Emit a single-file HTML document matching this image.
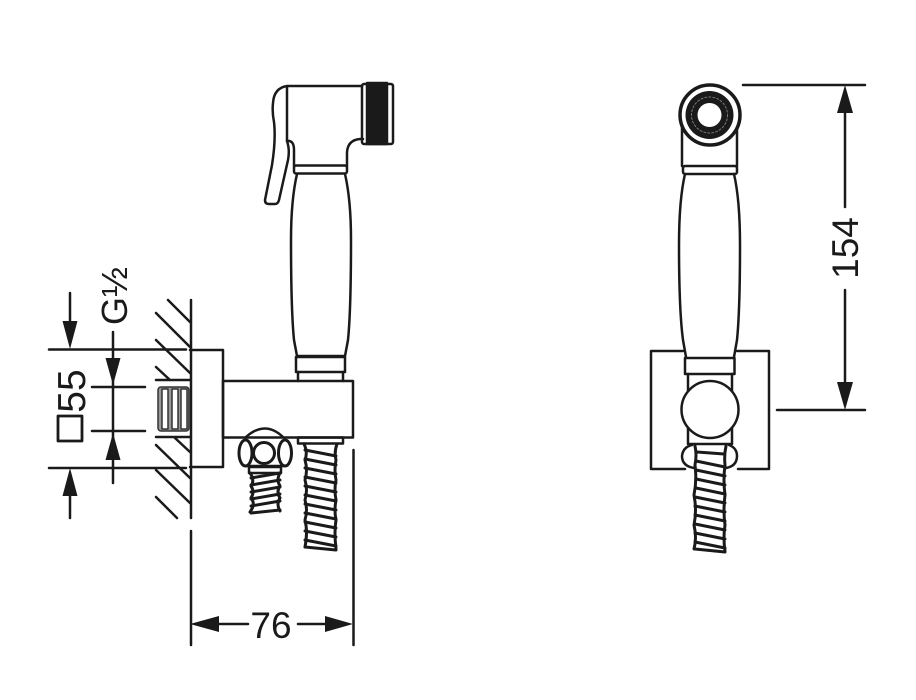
<!DOCTYPE html>
<html><head><meta charset="utf-8"><style>
html,body{margin:0;padding:0;background:#fff}
svg{display:block;filter:blur(0.35px)}
text{font-family:"Liberation Sans",sans-serif;fill:#1a1a1a}
</style></head><body>
<svg width="916" height="700" viewBox="0 0 916 700" fill="none" stroke="#1a1a1a" stroke-width="2.500" stroke-linejoin="round" stroke-linecap="round">
<!-- Handset side -->
<path d="M362 86H287Q274 88 273 103Q272 112 274 122Q276 140 272 165L265 200Q265 204 269 204H275Q278 204 279 200L288 160Q290 150 287 141V86" fill="#fff"/>
<path d="M287 141Q294 140 294 150V166M347 166V152Q348 140 360 139H363"/>
<rect x="294" y="165.500" width="53" height="8" rx="2"/>
<rect x="362" y="84" width="31" height="60" rx="2"/>
<rect x="367" y="83" width="20" height="61" fill="#1a1a1a"/>
<path d="M297 174Q291 200 291 240Q291 310 294 340L297 356H345L348 340Q351 310 351 240Q351 200 345 174"/>
<rect x="296" y="357" width="49" height="15"/>
<path d="M298 372V381M343 372V381"/>
<rect x="223" y="381" width="130" height="56.500"/>
<path d="M190 350H223V467H190" />
<!-- Elbow -->
<path d="M246 437Q265 420 283 437"/>
<circle cx="264" cy="453" r="10.500" stroke-width="3"/>
<ellipse cx="245.500" cy="453" rx="6.500" ry="13" stroke-width="3"/>
<ellipse cx="285" cy="453" rx="6.500" ry="13" stroke-width="3"/>
<path d="M247 466H283"/>
<rect x="249" y="467" width="32" height="6"/>
<g stroke-width="3">
<path d="M250 473Q255 480 251 486Q255 492 251 498Q256 504 250 512M280 473Q276 480 280 486Q276 492 280 498Q276 504 280 511"/>
<path d="M251 478L280 473M251 485L280 480M251 492L280 487M251 499L280 494M251 506L280 501M251 513L280 510"/>
</g>
<!-- main hose side -->
<rect x="298" y="437.500" width="45" height="6"/>
<g stroke-width="3">
<path d="M304 444Q308 452 305 460Q308 470 305 480Q308 490 305 500Q308 510 305 520Q308 532 305 547M337 444Q334 452 336 460Q334 470 336 480Q334 490 336 500Q334 510 336 520Q334 532 336 549"/>
<path d="M305 450L336 456M305 459L336 465M305 468L336 474M305 477L336 483M305 486L336 492M305 495L336 501M305 504L336 510M305 513L336 519M305 522L336 528M305 531L336 537M305 540L336 546M305 547L336 550"/>
</g>
<!-- Wall -->
<path d="M191 300V518"/>
<path d="M168 300L190 322M156 313L190 347M156 340L190 373M156 367L170 380M156 380H190M156 437H190M175 438L190 452M156 445L190 478M156 470L190 503M156 497L177 518"/>
<rect x="158" y="387" width="31" height="44" rx="3" fill="#999" stroke="#333" stroke-width="1.500"/>
<rect x="162" y="389" width="6" height="40" fill="#fff" stroke="#333" stroke-width="1.500"/>
<rect x="172" y="389" width="6" height="40" fill="#fff" stroke="#333" stroke-width="1.500"/>
<rect x="181" y="389" width="6" height="40" fill="#fff" stroke="#333" stroke-width="1.500"/>
<!-- Left dims -->
<path d="M49 349.500H186M49 468H186M70 293V325M70 492V518M92 387H145M92 431H145M113 332V483"/>
<g fill="#1a1a1a" stroke="none">
<path d="M70 349L62.500 321H77.500Z"/>
<path d="M70 468L62.500 496H77.500Z"/>
<path d="M113 385L105.500 358H120.500Z"/>
<path d="M113 433L105.500 460H120.500Z"/>
<path d="M190 624L219 616V632Z"/>
<path d="M353 624L325 616V632Z"/>
<path d="M845 85L837 113H853Z"/>
<path d="M845 410L837 382H853Z"/>
</g>
<rect x="58" y="416" width="24" height="25" stroke-width="2.800" stroke-linecap="butt"/>
<!-- Bottom dim -->
<path d="M191 531V645M353.500 450V645M215 624H248M298 624H330"/>
<!-- Right dim -->
<path d="M743 85H865M777 410H865M845 110V207M845 290V385"/>
<!-- Front view -->
<path d="M683 351H651V469H685M737 351H769V469H738"/>
<path d="M682 125V166M737 125V166"/>
<rect x="683" y="166" width="54" height="8" rx="2"/>
<path d="M685 174Q679 200 679 245Q679 310 683 340L686 357M734 174Q740 200 740 245Q740 310 737 340L734 357"/>
<rect x="685" y="358" width="49.500" height="16"/>
<path d="M688 374V444M732 374V444M688 444H732"/>
<circle cx="710" cy="409.500" r="28.500" fill="#fff"/>
<path d="M692 445Q683 447 682 456Q682 466 694 468M729 445Q737 448 737 456Q737 466 726 468"/>
<g stroke-width="3">
<path d="M695 446Q697 455 695 465Q697 480 694 495Q697 510 694 525Q697 538 694 549M726 446Q724 455 725 465Q723 480 725 495Q723 510 725 525Q723 538 725 551"/>
<path d="M697 452L724 454M696 461L725 467M696 470L725 476M696 479L725 485M696 488L725 494M695 497L725 503M695 506L725 512M695 515L725 521M695 524L725 530M695 533L725 539M695 542L725 548M695 549L725 552"/>
</g>
<circle cx="710" cy="115" r="30" fill="#fff" stroke-width="3.500"/>
<circle cx="709.500" cy="115" r="24" fill="#1a1a1a" stroke="none"/>
<circle cx="709.500" cy="115" r="18" fill="none" stroke="#777" stroke-width="1" stroke-dasharray="2 2"/>
<circle cx="709.500" cy="115" r="12" fill="#fff" stroke="none"/>
<!-- Text -->
<g stroke="none">
<text x="271" y="638" font-size="37" text-anchor="middle">76</text>
<text transform="translate(858,248) rotate(-90)" font-size="37" text-anchor="middle">154</text>
<text transform="translate(85,391) rotate(-90)" font-size="39" text-anchor="middle">55</text>
<text transform="translate(127,325) rotate(-90)" font-size="36">G</text>
<text transform="translate(127,297) rotate(-90)" font-size="36">½</text>
</g>
</svg>
</body></html>
